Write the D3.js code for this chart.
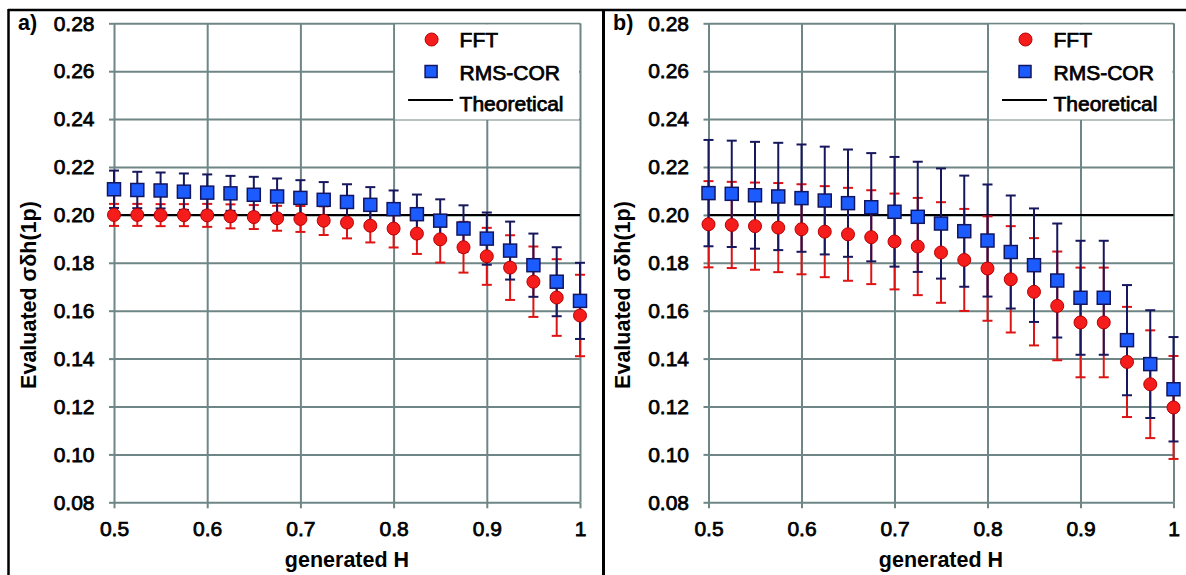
<!DOCTYPE html>
<html>
<head>
<meta charset="utf-8">
<script src="https://cdn.jsdelivr.net/npm/d3@7"></script>
<style>
  body { margin: 0; background: #fff; }
  svg text { font-family: "Liberation Sans", Arial, sans-serif; }
  .heavy { stroke: #000; stroke-width: 0.75px; }
</style>
</head>
<body>
<svg id="chart"></svg>
<script>
// generated H values (shared by both panels)
const hValues = [0.5, 0.525, 0.55, 0.575, 0.6, 0.625, 0.65, 0.675, 0.7, 0.725, 0.75,
  0.775, 0.8, 0.825, 0.85, 0.875, 0.9, 0.925, 0.95, 0.975, 1.0];

const xTicks = [0.5, 0.6, 0.7, 0.8, 0.9, 1];
const yTicks = [0.08, 0.10, 0.12, 0.14, 0.16, 0.18, 0.20, 0.22, 0.24, 0.26, 0.28];
const theoretical = 0.20;
const legendLabels = ["FFT", "RMS-COR", "Theoretical"];

// panel a)
const fftA = [0.2000, 0.2000, 0.1999, 0.1999, 0.1998, 0.1994, 0.1991, 0.1986, 0.1983, 0.1976, 0.1968,
  0.1955, 0.1943, 0.1922, 0.1898, 0.1865, 0.1827, 0.1780, 0.1721, 0.1655, 0.1580];
const fftErrA = [0.0046, 0.0046, 0.0046, 0.0046, 0.0048, 0.0050, 0.0050, 0.0052, 0.0054, 0.0060, 0.0066,
  0.0070, 0.0079, 0.0085, 0.0097, 0.0106, 0.0119, 0.0135, 0.0147, 0.0160, 0.0170];
const rmsA = [0.2107, 0.2104, 0.2102, 0.2097, 0.2093, 0.2090, 0.2084, 0.2077, 0.2071, 0.2063, 0.2054,
  0.2042, 0.2024, 0.2003, 0.1976, 0.1943, 0.1901, 0.1851, 0.1790, 0.1721, 0.1641];
const rmsErrA = [0.0078, 0.0076, 0.0075, 0.0076, 0.0076, 0.0073, 0.0075, 0.0075, 0.0074, 0.0074, 0.0074,
  0.0074, 0.0078, 0.0082, 0.0089, 0.0097, 0.0109, 0.0121, 0.0132, 0.0144, 0.0159];

// panel b)
const fftB = [0.1961, 0.1958, 0.1953, 0.1947, 0.1940, 0.1930, 0.1919, 0.1907, 0.1889, 0.1868, 0.1843,
  0.1812, 0.1776, 0.1731, 0.1679, 0.1620, 0.1551, 0.1551, 0.1386, 0.1293, 0.1196];
const fftErrB = [0.0180, 0.0180, 0.0182, 0.0186, 0.0188, 0.0190, 0.0194, 0.0196, 0.0200, 0.0203, 0.0210,
  0.0213, 0.0218, 0.0222, 0.0224, 0.0227, 0.0229, 0.0229, 0.0230, 0.0225, 0.0215];
const rmsB = [0.2091, 0.2088, 0.2082, 0.2077, 0.2070, 0.2060, 0.2049, 0.2032, 0.2013, 0.1992, 0.1964,
  0.1932, 0.1893, 0.1845, 0.1790, 0.1726, 0.1654, 0.1654, 0.1477, 0.1377, 0.1272];
const rmsErrB = [0.0222, 0.0222, 0.0223, 0.0224, 0.0224, 0.0225, 0.0224, 0.0226, 0.0229, 0.0230, 0.0230,
  0.0232, 0.0234, 0.0236, 0.0237, 0.0238, 0.0238, 0.0238, 0.0230, 0.0225, 0.0218];

const gridColor = "#6f8686";
const redFill = "#f51c1c", redEdge = "#b80000", redBar = "#de1414";
const blueFill = "#1c5cff", blueEdge = "#121660", blueBar = "#17175e";

const width = 1186, height = 575;
const svg = d3.select("#chart").attr("width", width).attr("height", height);

// outer frame: top, left and the divider between panels
svg.append("line").attr("x1", 8).attr("x2", width).attr("y1", 10).attr("y2", 10)
  .attr("stroke", "#000").attr("stroke-width", 2.5);
svg.append("line").attr("x1", 8.5).attr("x2", 8.5).attr("y1", 9).attr("y2", height)
  .attr("stroke", "#000").attr("stroke-width", 2.5);
svg.append("line").attr("x1", 603.5).attr("x2", 603.5).attr("y1", 9).attr("y2", height)
  .attr("stroke", "#000").attr("stroke-width", 3);

function drawPanel(p) {
  const x = d3.scaleLinear().domain([0.5, 1]).range([p.left, p.right]);
  const y = d3.scaleLinear().domain([0.08, 0.28]).range([502.3, 23.3]);
  const g = svg.append("g");

  const pts = hValues.map((h, i) => ({
    h: h, fft: p.fft[i], fftErr: p.fftErr[i], rms: p.rms[i], rmsErr: p.rmsErr[i]
  }));

  // grid lines
  g.append("g").attr("transform", "translate(0,502.3)")
    .call(d3.axisBottom(x).tickValues(xTicks).tickSize(-(502.3 - 23.3)).tickFormat(""))
    .call(s => s.select(".domain").remove())
    .selectAll("line").attr("stroke", gridColor).attr("stroke-width", 2);
  g.append("g").attr("transform", "translate(" + p.left + ",0)")
    .call(d3.axisLeft(y).tickValues(yTicks).tickSize(-(p.right - p.left)).tickFormat(""))
    .call(s => s.select(".domain").remove())
    .selectAll("line").attr("stroke", gridColor).attr("stroke-width", 2);

  // legend box hides the grid behind it
  g.append("rect").attr("x", x(0.8) + 1.5).attr("y", 24.5)
    .attr("width", p.right - x(0.8) - 2.5).attr("height", 95).attr("fill", "#fff");

  // axes (outside ticks + labels)
  const xAxis = g.append("g").attr("transform", "translate(0,502.3)")
    .call(d3.axisBottom(x).tickValues(xTicks).tickSize(6).tickPadding(13)
      .tickFormat(d => d === 1 ? "1" : d3.format(".1f")(d)));
  const yAxis = g.append("g").attr("transform", "translate(" + p.left + ",0)")
    .call(d3.axisLeft(y).tickValues(yTicks).tickSize(5).tickPadding(14.5).tickFormat(d3.format(".2f")));
  [xAxis, yAxis].forEach(a => {
    a.select(".domain").remove();
    a.selectAll("line").attr("stroke", gridColor).attr("stroke-width", 2);
    a.selectAll("text").attr("font-size", 21).attr("fill", "#000").attr("class", "heavy")
      .style("font-family", "'Liberation Sans', Arial, sans-serif");
  });

  // theoretical value
  g.append("line").attr("x1", x(0.5)).attr("x2", x(1))
    .attr("y1", y(theoretical)).attr("y2", y(theoretical))
    .attr("stroke", "#000").attr("stroke-width", 2);

  // error bars
  function errorBars(key, errKey, color) {
    const eb = g.append("g").attr("stroke", color).attr("stroke-width", 2);
    eb.selectAll(".stem").data(pts).enter().append("line")
      .attr("x1", d => x(d.h)).attr("x2", d => x(d.h))
      .attr("y1", d => y(d[key] + d[errKey])).attr("y2", d => y(d[key] - d[errKey]));
    [1, -1].forEach(sgn => {
      eb.selectAll(".cap" + sgn).data(pts).enter().append("line")
        .attr("x1", d => x(d.h) - 5).attr("x2", d => x(d.h) + 5)
        .attr("y1", d => y(d[key] + sgn * d[errKey])).attr("y2", d => y(d[key] + sgn * d[errKey]));
    });
  }
  errorBars("fft", "fftErr", redBar);
  errorBars("rms", "rmsErr", blueBar);

  // markers
  g.selectAll(".fft").data(pts).enter().append("circle")
    .attr("cx", d => x(d.h)).attr("cy", d => y(d.fft)).attr("r", 6.5)
    .attr("fill", redFill).attr("stroke", redEdge).attr("stroke-width", 1);
  g.selectAll(".rms").data(pts).enter().append("rect")
    .attr("x", d => x(d.h) - 6.5).attr("y", d => y(d.rms) - 6.5)
    .attr("width", 13).attr("height", 13)
    .attr("fill", blueFill).attr("stroke", blueEdge).attr("stroke-width", 1.5);

  // legend entries
  const lx = x(0.8);
  g.append("circle").attr("cx", lx + 38).attr("cy", 39.5).attr("r", 6.5)
    .attr("fill", redFill).attr("stroke", redEdge).attr("stroke-width", 1);
  g.append("rect").attr("x", lx + 31.5).attr("y", 65.5).attr("width", 12).attr("height", 12)
    .attr("fill", blueFill).attr("stroke", blueEdge).attr("stroke-width", 1.5);
  g.append("line").attr("x1", lx + 14.5).attr("x2", lx + 59.5).attr("y1", 100).attr("y2", 100)
    .attr("stroke", "#000").attr("stroke-width", 2);
  [47, 79.5, 111].forEach((by, i) => {
    g.append("text").attr("x", lx + 66).attr("y", by).attr("font-size", 21).attr("class", "heavy")
      .text(legendLabels[i]);
  });

  // titles
  g.append("text").attr("x", (p.left + p.right) / 2).attr("y", 567)
    .attr("text-anchor", "middle").attr("font-size", 21.5).attr("font-weight", "bold")
    .text("generated H");
  g.append("text").attr("transform", "translate(" + (p.yTitleX) + ",295) rotate(-90)")
    .attr("text-anchor", "middle").attr("font-size", 21.5).attr("font-weight", "bold")
    .text("Evaluated σδh(1p)");
  g.append("text").attr("x", p.tagX).attr("y", 30).attr("font-size", 21.5).attr("font-weight", "bold")
    .text(p.tag);
}

drawPanel({ left: 114, right: 580, fft: fftA, fftErr: fftErrA, rms: rmsA, rmsErr: rmsErrA,
  yTitleX: 36, tagX: 18, tag: "a)" });
drawPanel({ left: 708.5, right: 1173.5, fft: fftB, fftErr: fftErrB, rms: rmsB, rmsErr: rmsErrB,
  yTitleX: 630, tagX: 613, tag: "b)" });
</script>
</body>
</html>
